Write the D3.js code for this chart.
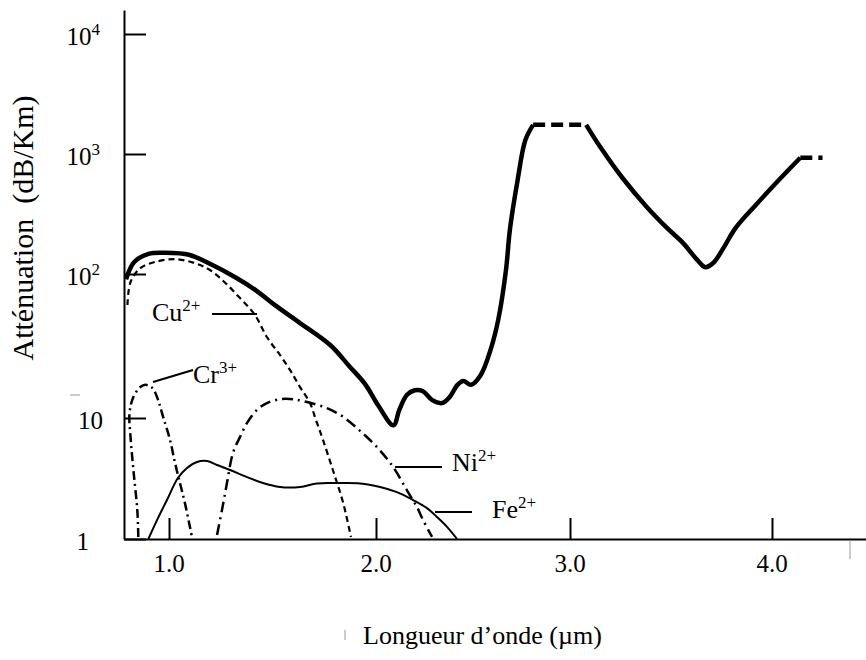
<!DOCTYPE html>
<html><head><meta charset="utf-8">
<script src="https://cdn.jsdelivr.net/npm/d3@7"></script>
<style>body{margin:0;background:#fff}svg{display:block}text{font-family:"Liberation Serif","Times New Roman",serif;fill:#000}</style>
</head><body>
<script>
// ---- data ----
const xTicks = [1, 2, 3, 4];
const xTickLabels = ["1.0", "2.0", "3.0", "4.0"];
const yTicks = [1, 10, 100, 1000, 10000];
const yTickBase = ["1", "10", "10", "10", "10"];
const yTickExp = ["", "", "2", "3", "4"];

// total attenuation (thick)
const mainWl = [0.79,0.83,0.90,0.98,1.10,1.20,1.32,1.42,1.51,1.63,1.78,1.87,1.95,2.01,2.09,2.12,2.16,2.20,2.24,2.29,2.34,2.38,2.42,2.45,2.49,2.54,2.59,2.63,2.67,2.69,2.73,2.77,2.81];
const mainAtt = [92,126,147,150,144,121,95,77,61,46,32,23,17,12.3,8.7,11.4,14.5,15.6,15.4,13.3,12.7,14.0,17.0,18.1,17.0,19.9,29.6,48,108,233,607,1309,1750];
const plateau1Wl = [2.81, 3.08];
const plateau1Att = [1750, 1750];
const main2Wl = [3.08,3.15,3.26,3.38,3.48,3.56,3.63,3.67,3.71,3.76,3.82,3.92,4.02,4.14];
const main2Att = [1750,1143,631,362,242,181,131,114,124,165,242,376,573,930];
const plateau2Wl = [4.14, 4.25];
const plateau2Att = [930, 930];

// ion contributions
const cuWl = [0.797,0.812,0.860,0.932,1.029,1.126,1.198,1.271,1.343,1.415,1.473,1.536,1.585,1.633,1.681,1.710,1.744,1.792,1.841,1.879];
const cuAtt = [61,88,112,126,133,123,108,87,68,52,36.5,27.4,21.5,16.4,12.7,9.6,6.6,3.7,2.0,1.04];
const crWl = [0.850,0.845,0.826,0.812,0.807,0.826,0.860,0.884,0.918,0.947,0.971,1.005,1.029,1.053,1.077,1.101,1.111];
const crAtt = [1.04,1.74,3.72,6.96,10.8,14.0,16.4,17.0,16.2,13.3,10.2,6.58,4.25,2.90,1.98,1.26,1.04];
const niWl = [1.232,1.256,1.280,1.309,1.343,1.377,1.425,1.473,1.536,1.599,1.667,1.763,1.841,1.923,2.005,2.088,2.165,2.211,2.242,2.289];
const niAtt = [1.08,1.74,2.90,5.14,6.96,9.10,11.4,12.7,13.5,13.5,12.9,11.7,10.2,7.82,5.75,3.94,2.44,1.84,1.44,1.04];
const feWl = [0.899,0.942,0.990,1.043,1.087,1.135,1.184,1.232,1.295,1.377,1.454,1.536,1.633,1.715,1.812,1.923,2.021,2.108,2.191,2.263,2.314,2.366,2.418];
const feAtt = [1.0,1.44,2.10,3.19,3.86,4.33,4.41,4.09,3.72,3.25,2.90,2.69,2.69,2.88,2.90,2.88,2.69,2.44,2.10,1.80,1.52,1.26,1.0];

const ionNames = ["Cu", "Cr", "Ni", "Fe"];
const ionCharges = ["2+", "3+", "2+", "2+"];

// ---- layout ----
const W = 866, H = 660;
const svg = d3.select("body").append("svg").attr("width", W).attr("height", H);

// the printed axes are slightly uneven: piecewise scales through the tick positions
const x = d3.scaleLinear().domain([0.78, 1, 2, 3, 4, 4.465]).range([124, 169, 376, 570, 772, 866]);
const y = d3.scaleLog().domain([1, 10, 100, 1000, 10000, 15849]).range([539, 418, 274, 154, 34, 10]);

const zip = (a, b) => a.map((v, i) => [v, b[i]]);
const line = d3.line().x(d => x(d[0])).y(d => y(d[1])).curve(d3.curveCatmullRom.alpha(0.5));
const straight = d3.line().x(d => x(d[0])).y(d => y(d[1]));

// axes
const xAxis = svg.append("g").attr("transform", `translate(0,${y(1)})`)
  .call(d3.axisBottom(x).tickValues(xTicks).tickFormat("").tickSizeInner(-21).tickSizeOuter(0));
const yAxis = svg.append("g").attr("transform", `translate(${x(0.78)},0)`)
  .call(d3.axisLeft(y).tickValues(yTicks).tickFormat("").tickSizeInner(-22).tickSizeOuter(0));
[xAxis, yAxis].forEach(g => {
  g.selectAll("path,line").attr("stroke", "#000").attr("stroke-width", 2);
});

// x tick labels
svg.append("g").selectAll("text").data(xTicks).join("text")
  .attr("x", d => x(d)).attr("y", 572).attr("text-anchor", "middle")
  .style("font-size", "25px").text((d, i) => xTickLabels[i]);

// y tick labels
const yLab = svg.append("g").selectAll("text").data(yTicks).join("text")
  .attr("x", (d, i) => i === 0 ? 89 : (i === 1 ? 103 : 100))
  .attr("y", d => y(d) + 11).attr("text-anchor", "end").style("font-size", "25px");
yLab.append("tspan").text((d, i) => yTickBase[i]);
yLab.append("tspan").attr("dy", -10).style("font-size", "17px").text((d, i) => yTickExp[i]);

// axis titles
svg.append("text").attr("transform", "translate(33,228) rotate(-90)")
  .attr("text-anchor", "middle").style("font-size", "30px").style("white-space", "pre")
  .text("Atténuation  (dB/Km)");
svg.append("text").attr("x", 363).attr("y", 644).style("font-size", "26px")
  .text("Longueur d\u2019onde (\u00b5m)");

// curves
const plot = svg.append("g").attr("fill", "none").attr("stroke", "#000");
plot.append("path").datum(zip(mainWl, mainAtt)).attr("d", line).attr("stroke-width", 4.5).attr("stroke-linejoin", "round");
plot.append("path").datum(zip(plateau1Wl, plateau1Att)).attr("d", straight).attr("stroke-width", 4.5).attr("stroke-dasharray", "12,6");
plot.append("path").datum(zip(main2Wl, main2Att)).attr("d", line).attr("stroke-width", 4.5).attr("stroke-linejoin", "round");
plot.append("path").datum(zip(plateau2Wl, plateau2Att)).attr("d", straight).attr("stroke-width", 4.5).attr("stroke-dasharray", "12,6");

plot.append("path").datum(zip(cuWl, cuAtt)).attr("d", line).attr("stroke-width", 2.2).attr("stroke-dasharray", "6,4");
plot.append("path").datum(zip(crWl, crAtt)).attr("d", line).attr("stroke-width", 2.5).attr("stroke-dasharray", "9,4,2,4");
plot.append("path").datum(zip(niWl, niAtt)).attr("d", line).attr("stroke-width", 2.5).attr("stroke-dasharray", "11,5,2,5");
plot.append("path").datum(zip(feWl, feAtt)).attr("d", line).attr("stroke-width", 2);

// ion labels with leader lines
const labelPos = [
  {tx: 152, ty: 321, l: [[212, 314], [257, 314]]},
  {tx: 193, ty: 383, l: [[153, 382], [193, 370]]},
  {tx: 452, ty: 471, l: [[395, 467], [442, 467]]},
  {tx: 492, ty: 518, l: [[435, 512], [472, 512]]}
];
const lab = svg.append("g");
labelPos.forEach((p, i) => {
  lab.append("line").attr("x1", p.l[0][0]).attr("y1", p.l[0][1]).attr("x2", p.l[1][0]).attr("y2", p.l[1][1])
    .attr("stroke", "#000").attr("stroke-width", 2);
  const t = lab.append("text").attr("x", p.tx).attr("y", p.ty).style("font-size", "26px");
  t.append("tspan").text(ionNames[i]);
  t.append("tspan").attr("dy", -10).style("font-size", "17px").text(ionCharges[i]);
});

// faint scan marks of the original
const marks = svg.append("g").attr("stroke", "#999").attr("stroke-width", 1);
marks.append("line").attr("x1", 850).attr("y1", 540).attr("x2", 850).attr("y2", 559);
marks.append("line").attr("x1", 345).attr("y1", 630).attr("x2", 345).attr("y2", 640);
marks.append("line").attr("x1", 70).attr("y1", 395).attr("x2", 80).attr("y2", 395);
</script>
</body></html>
